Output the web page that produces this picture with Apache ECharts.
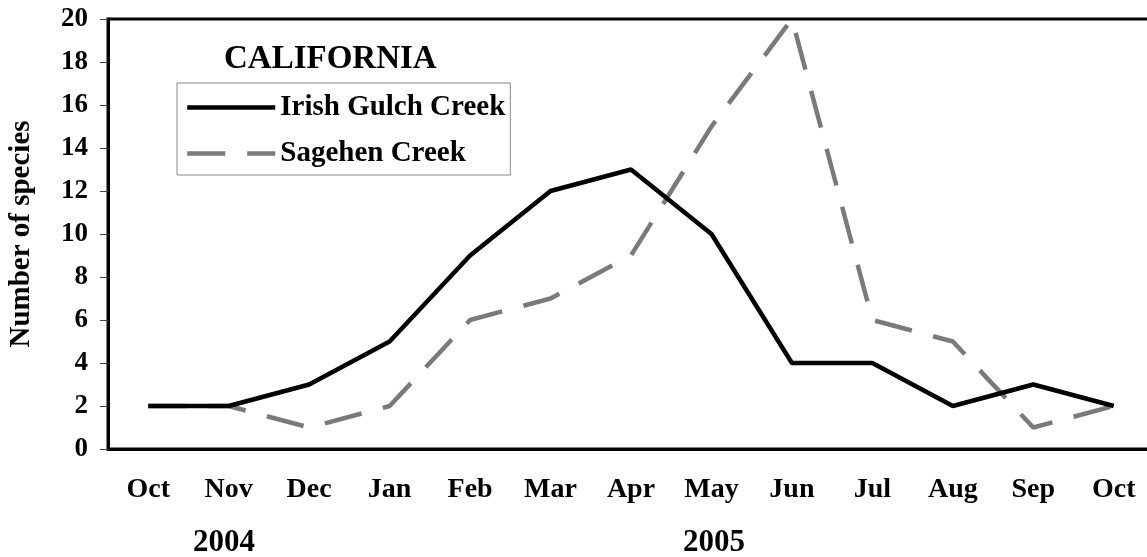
<!DOCTYPE html>
<html>
<head>
<meta charset="utf-8">
<style>
html,body{margin:0;padding:0;background:#fff;}
#main{width:1147px;height:557px;}
</style>
<script src="https://cdn.jsdelivr.net/npm/echarts@6/dist/echarts.min.js"></script>
</head>
<body>
<div id="main"></div>
<script>
var months = ['Oct','Nov','Dec','Jan','Feb','Mar','Apr','May','Jun','Jul','Aug','Sep','Oct'];
var irishGulch = [2,2,3,5,9,12,13,10,4,4,2,3,2];
var sagehen = [2,2,1,2,6,7,9,15,20,6,5,1,2];
var yTicks = {min:0, max:20, interval:2};
var titleText = 'CALIFORNIA';
var yName = 'Number of species';
var yearLabels = ['2004','2005'];

var FONT = '"Liberation Serif","Times New Roman",serif';
var chart = echarts.init(document.getElementById('main'));
chart.setOption({
  backgroundColor:'#fff',
  animation:false,
  title:{
    text:titleText, left:219, top:38,
    textStyle:{fontFamily:FONT, fontWeight:'bold', fontSize:33, color:'#000'}
  },
  legend:{
    orient:'vertical', left:177, top:83,
    padding:[10,5,7,8],
    itemGap:17,
    itemWidth:88, itemHeight:14,
    borderColor:'#888', borderWidth:1,
    itemStyle:{opacity:0},
    lineStyle:{width:4.5},
    textStyle:{fontFamily:FONT, fontWeight:'bold', fontSize:29, color:'#000'},
    data:['Irish Gulch Creek','Sagehen Creek']
  },
  graphic:[
    {type:'text', left:193, top:527, style:{text:yearLabels[0], font:'bold 31px '+FONT, fill:'#000'}},
    {type:'text', left:683, top:527, style:{text:yearLabels[1], font:'bold 31px '+FONT, fill:'#000'}}
  ],
  grid:{left:108, top:19, width:1046, height:430, outerBoundsMode:'none', containLabel:false,
        show:true, borderColor:'#000', borderWidth:3, backgroundColor:'transparent'},
  xAxis:{
    type:'category', data:months, boundaryGap:true,
    axisLine:{lineStyle:{color:'#000', width:3}},
    axisTick:{length:8, lineStyle:{color:'#444', width:1}},
    axisLabel:{fontFamily:FONT, fontWeight:'bold', fontSize:28, color:'#000', margin:27, interval:0}
  },
  yAxis:{
    type:'value', min:yTicks.min, max:yTicks.max, interval:yTicks.interval,
    name:yName, nameLocation:'middle', nameGap:72, nameRotate:90,
    nameTextStyle:{fontFamily:FONT, fontWeight:'bold', fontSize:29, color:'#000'},
    axisLine:{show:true, lineStyle:{color:'#000', width:3}},
    axisTick:{show:true, length:8, lineStyle:{color:'#444', width:1}},
    splitLine:{show:false},
    axisLabel:{fontFamily:FONT, fontWeight:'bold', fontSize:27, color:'#000', margin:20}
  },
  series:[
    {name:'Irish Gulch Creek', type:'line', data:irishGulch, showSymbol:false, symbol:'none',
     lineStyle:{color:'#000', width:4.5}, itemStyle:{color:'#000'}, z:3},
    {name:'Sagehen Creek', type:'line', data:sagehen, showSymbol:false, symbol:'none',
     lineStyle:{color:'#7a7a7a', width:4.5, type:[38,22]}, itemStyle:{color:'#7a7a7a'}, z:2}
  ]
});
</script>
</body>
</html>
